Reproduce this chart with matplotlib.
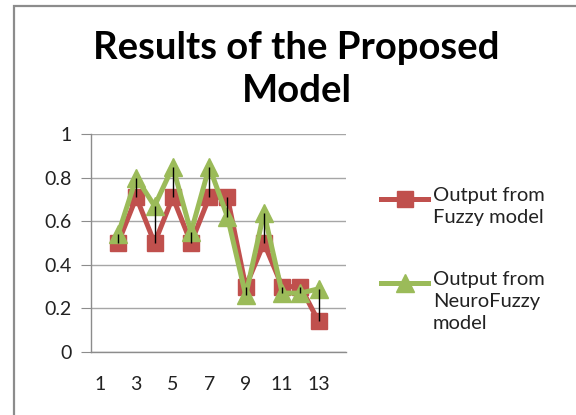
import matplotlib
matplotlib.use("Agg")
import matplotlib.pyplot as plt
import numpy as np
from matplotlib.patches import Rectangle
from matplotlib.lines import Line2D

plt.rcParams['font.family'] = ['Lato', 'DejaVu Sans']

categories = list(range(1, 15))
fuzzy = [np.nan, 0.50, 0.71, 0.50, 0.71, 0.50, 0.71, 0.71, 0.30, 0.50, 0.30, 0.30, 0.14, np.nan]
neuro = [np.nan, 0.54, 0.80, 0.67, 0.85, 0.55, 0.85, 0.62, 0.26, 0.64, 0.27, 0.27, 0.29, np.nan]
xtick_labels = ['1', '3', '5', '7', '9', '11', '13']
ytick_values = [0, 0.2, 0.4, 0.6, 0.8, 1]
ytick_labels = ['0', '0.2', '0.4', '0.6', '0.8', '1']
series_names = ['Output from\nFuzzy model', 'Output from\nNeuroFuzzy\nmodel']

red = '#C0504D'
green = '#9BBB59'
lw = 3.6

fig = plt.figure(figsize=(5.76, 4.15), dpi=100)
fig.patches.append(Rectangle((14/576, -0.1), 1.2, 1 - 6/415 + 0.1, transform=fig.transFigure,
                             fill=False, edgecolor='#8c8c8c', linewidth=1.6))

ax = fig.add_axes([0.1575, 0.1518, 0.4432, 0.5252])
x = np.array(categories, dtype=float)
f = np.array(fuzzy, dtype=float)
n = np.array(neuro, dtype=float)

ax.plot(x, f, color=red, linewidth=lw, marker='s', markersize=11.5, markeredgecolor=red,
        markerfacecolor=red, zorder=3)
ax.plot(x, n, color=green, linewidth=lw, marker='^', markersize=12.5, markeredgecolor=green,
        markerfacecolor=green, zorder=4)
mask = ~np.isnan(f) & ~np.isnan(n)
ax.vlines(x[mask], np.minimum(f, n)[mask], np.maximum(f, n)[mask], colors='black', linewidth=1.0, zorder=5)

ax.set_xlim(0.5, 14.5)
ax.set_ylim(0, 1)
ax.set_yticks(ytick_values)
ax.set_yticklabels(ytick_labels)
ax.set_xticks(categories[::2])
ax.set_xticklabels(xtick_labels)
ax.grid(axis='y', color='#a6a6a6', linewidth=1.0)
ax.set_axisbelow(True)
for s in ['top', 'right']:
    ax.spines[s].set_visible(False)
for s in ['left', 'bottom']:
    ax.spines[s].set_color('#8c8c8c')
    ax.spines[s].set_linewidth(1.0)
ax.tick_params(axis='y', length=7, color='#8c8c8c', labelsize=14, pad=7, labelcolor='#222222')
ax.tick_params(axis='x', length=0, labelsize=14, pad=17, labelcolor='#222222')

fig.text(0.515, 0.925, 'Results of the Proposed\nModel', ha='center', va='top',
         fontsize=27.5, fontweight='bold', linespacing=1.3)

# legend drawn manually (handle aligned with first text line, as in the reference)
legend_specs = [(red, 's', 11.5, 0.5205), (green, '^', 12.5, 0.318)]
for (col, mk, ms, yy), name in zip(legend_specs, series_names):
    fig.add_artist(Line2D([381/576, 428/576], [yy, yy], transform=fig.transFigure,
                          color=col, linewidth=lw))
    fig.add_artist(Line2D([404.5/576], [yy], transform=fig.transFigure, color=col,
                          marker=mk, markersize=ms, linestyle='none'))
    fig.text(433/576, yy + 0.03, name, ha='left', va='top', fontsize=14.5,
             linespacing=1.38, color='#222222')

fig.savefig('out.png', dpi=100)
